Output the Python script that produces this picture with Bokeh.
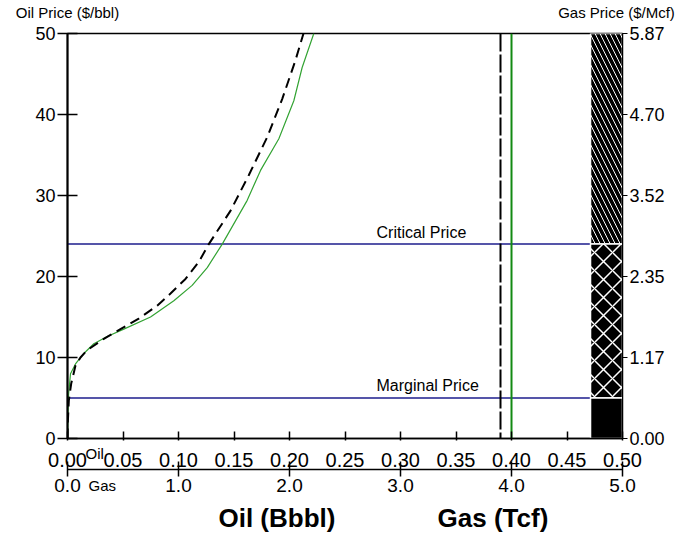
from bokeh.plotting import figure
from bokeh.models import (Range1d, LinearAxis, FixedTicker, Label,
                          PrintfTickFormatter)
from bokeh.embed import file_html
from bokeh.resources import INLINE

# ---------------- data ----------------
oil_volume = [0.0, 0.0005, 0.001, 0.0027, 0.0072, 0.0147, 0.0237, 0.0358, 0.0507,
              0.0748, 0.0958, 0.1123, 0.1259, 0.1394, 0.1619, 0.1739, 0.1904,
              0.2039, 0.2114, 0.2219]
oil_price = [0, 3.0, 5.5, 8.0, 9.2, 10.5, 11.7, 12.6, 13.5, 15.0, 17.0, 18.9, 21.1,
             24.0, 29.4, 33.1, 37.0, 41.7, 45.8, 50]

gas_volume = [0.0, 0.003, 0.012, 0.033, 0.072, 0.117, 0.177, 0.327, 0.477, 0.642,
              0.808, 0.928, 1.063, 1.183, 1.273, 1.468, 1.633, 1.799, 1.934,
              2.054, 2.126]
gas_curve_price = [0, 2.0, 4.7, 6.75, 9.0, 10.0, 10.9, 12.3, 13.5, 14.8, 16.4,
                   17.9, 19.7, 21.8, 24.0, 28.1, 32.5, 37.2, 41.9, 46.7, 50]

critical_price = 24
marginal_price = 5
oil_total = 0.40   # Bbbl
gas_total = 3.9    # Tcf

band_bottoms = [0, marginal_price, critical_price]
band_tops = [marginal_price, critical_price, 50]

oil_price_ticks = [0, 10, 20, 30, 40, 50]
gas_price_ticks = [0.00, 1.17, 2.35, 3.52, 4.70, 5.87]
oil_volume_ticks = [0.00, 0.05, 0.10, 0.15, 0.20, 0.25, 0.30, 0.35, 0.40, 0.45, 0.50]
gas_volume_ticks = [0, 1, 2, 3, 4, 5]

axis_titles = ["Oil Price ($/bbl)", "Gas Price ($/Mcf)"]
axis_title_pos = [0.0, 0.4946]

legend_labels = ["Oil (Bbbl)", "Gas (Tcf)"]
legend_label_pos = [0.1887, 0.3833]

FONT = "Liberation Sans"

p = figure(width=696, height=539, frame_width=555, frame_height=405,
           x_range=Range1d(0, 0.5), y_range=Range1d(0, 50),
           output_backend="svg", toolbar_location=None,
           min_border_left=67, min_border_right=74, min_border_top=33,
           min_border_bottom=101)
p.extra_x_ranges = {"gas": Range1d(0, 5)}
p.extra_y_ranges = {"gasprice": Range1d(0, 5.87)}
p.xgrid.visible = False
p.ygrid.visible = False
p.outline_line_color = "black"
p.outline_line_width = 1.5

PRICE_COLOR = "#1c1c8c"

# price lines
p.multi_line(xs=[[0, 0.5], [0, 0.5]],
             ys=[[critical_price, critical_price], [marginal_price, marginal_price]],
             line_color=PRICE_COLOR, line_width=1.5)

# curves
p.line(oil_volume, oil_price, line_color="#33a333", line_width=1.2)
p.line(gas_volume, gas_curve_price, x_range_name="gas", line_color="black",
       line_width=2, line_dash="10 6")

# vertical totals
p.vspan(x=[gas_total], x_range_name="gas", line_color="black", line_width=2,
        line_dash="18 3")
p.vspan(x=[oil_total], line_color="#138a13", line_width=2)

# price band bar
bar_left = 0.4712
p.quad(left=[bar_left], right=[0.5], bottom=[band_bottoms[2]], top=[band_tops[2]],
       fill_color="black", line_color="white", line_width=1.5,
       hatch_pattern="left_diagonal_line", hatch_color="white", hatch_scale=10,
       hatch_weight=1)
p.quad(left=[bar_left], right=[0.5], bottom=[band_bottoms[1]], top=[band_tops[1]],
       fill_color="black", line_color="white", line_width=1.5,
       hatch_pattern="diagonal_cross", hatch_color="white", hatch_scale=18,
       hatch_weight=1.5)
p.quad(left=[bar_left], right=[0.5], bottom=[band_bottoms[0]], top=[band_tops[0]],
       fill_color="black", line_color="white", line_width=1.5)

# axes
def style(ax, size):
    ax.major_label_text_font = FONT
    ax.major_label_text_font_size = size
    ax.major_label_text_color = "black"
    ax.minor_tick_line_color = None
    ax.axis_line_color = "black"
    ax.major_tick_line_color = "black"

ya = p.yaxis[0]
ya.ticker = FixedTicker(ticks=oil_price_ticks)
style(ya, "18px")
ya.major_tick_in = 10
ya.major_tick_out = 10
ya.axis_line_width = 2
ya.major_tick_line_width = 1.5
ya.major_label_standoff = 2

xa = p.xaxis[0]
xa.ticker = FixedTicker(ticks=oil_volume_ticks)
xa.formatter = PrintfTickFormatter(format="%.2f")
style(xa, "20px")
xa.major_tick_in = 7
xa.major_tick_out = 2
xa.axis_line_width = 1.5
xa.major_tick_line_width = 1.5
xa.major_label_standoff = 12

gx = LinearAxis(x_range_name="gas", ticker=FixedTicker(ticks=gas_volume_ticks),
                formatter=PrintfTickFormatter(format="%.1f"))
style(gx, "19px")
gx.major_tick_in = 8
gx.major_tick_out = 7
gx.axis_line_width = 1.5
gx.major_tick_line_width = 1.5
gx.major_label_standoff = 2
p.add_layout(gx, "below")

ry = LinearAxis(y_range_name="gasprice", ticker=FixedTicker(ticks=gas_price_ticks),
                formatter=PrintfTickFormatter(format="%.2f"))
style(ry, "18px")
ry.major_tick_in = 0
ry.major_tick_out = 5
ry.major_label_standoff = 2
ry.axis_line_width = 1
p.add_layout(ry, "right")

# top titles as labels of a bare axis above the frame
ta = LinearAxis(ticker=FixedTicker(ticks=axis_title_pos),
                major_label_overrides={axis_title_pos[0]: axis_titles[0],
                                       axis_title_pos[1]: axis_titles[1]})
style(ta, "15px")
ta.axis_line_color = None
ta.major_tick_line_color = None
ta.major_tick_in = 0
ta.major_tick_out = 0
ta.major_label_standoff = 13
p.add_layout(ta, "above")

# legend texts: bare axis under the gas axis
la = LinearAxis(ticker=FixedTicker(ticks=legend_label_pos),
                major_label_overrides={legend_label_pos[0]: legend_labels[0],
                                       legend_label_pos[1]: legend_labels[1]})
style(la, "26px")
la.major_label_text_font_style = "bold"
la.axis_line_color = None
la.major_tick_line_color = None
la.major_tick_in = 0
la.major_tick_out = 0
la.major_label_standoff = 8
p.add_layout(la, "below")

# texts
def lab(x, y, text, xo, yo, place=None, align="left", size="15px", baseline="bottom"):
    l = Label(x=x, y=y, text=text, x_offset=xo, y_offset=yo,
              text_align=align, text_baseline=baseline,
              text_font=FONT, text_font_size=size, text_color="black")
    if place:
        p.add_layout(l, place)
    else:
        p.add_layout(l)

lab(0.2784, critical_price, "Critical Price", 0, 3, size="16px")
lab(0.2784, marginal_price, "Marginal Price", 0, 4, size="16px")
lab(0, 0, "Oil", 18, -6, place="left", size="15px", baseline="top")
lab(0, 0, "Gas", 21, -38, place="right", size="15px", baseline="top")

open("out.html", "w").write(file_html(p, INLINE))
